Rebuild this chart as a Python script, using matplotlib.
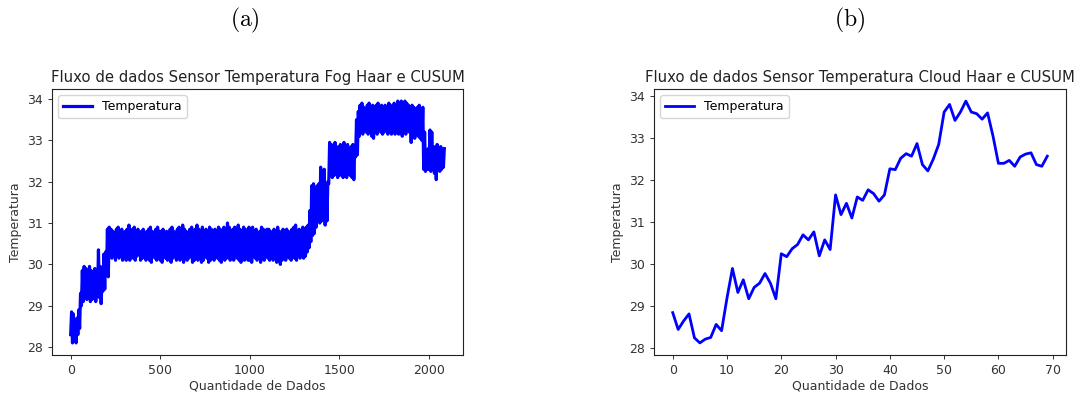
import matplotlib
matplotlib.use("Agg")
import matplotlib.pyplot as plt
import numpy as np

# Fog stream: lower / upper edge of the noisy band, read every 10 samples
fog_low = [
    28.3, 28.1, 28.15, 28.1, 28.3, 28.45, 29.0, 29.1, 29.2, 29.15,
    29.2, 29.1, 29.15, 29.2, 29.1, 29.3, 29.2, 29.05, 29.35, 29.4,
    29.75, 29.7, 30.2, 30.15, 30.2, 30.1, 30.25, 30.15, 30.2, 30.1,
    30.2, 30.1, 30.25, 30.1, 30.2, 30.15, 30.1, 30.2, 30.25, 30.1,
    30.15, 30.2, 30.1, 30.25, 30.1, 30.05, 30.2, 30.15, 30.1, 30.2,
    30.1, 30.05, 30.2, 30.15, 30.1, 30.2, 30.05, 30.15, 30.25, 30.1,
    30.2, 30.1, 30.15, 30.05, 30.2, 30.1, 30.15, 30.2, 30.05, 30.1,
    30.15, 30.1, 30.2, 30.05, 30.1, 30.2, 30.15, 30.05, 30.1, 30.2,
    30.1, 30.2, 30.15, 30.1, 30.05, 30.2, 30.1, 30.15, 30.2, 30.1,
    30.15, 30.1, 30.2, 30.15, 30.1, 30.05, 30.2, 30.1, 30.15, 30.1,
    30.1, 30.05, 30.2, 30.15, 30.1, 30.2, 30.05, 30.15, 30.1, 30.2,
    30.15, 30.1, 30.2, 30.1, 30.15, 30.05, 30.2, 30.0, 30.1, 30.2,
    30.1, 30.2, 30.15, 30.1, 30.2, 30.15, 30.1, 30.2, 30.15, 30.2,
    30.15, 30.2, 30.3, 30.4, 30.55, 30.7, 30.75, 30.9, 31.05, 31.0,
    31.05, 31.1, 30.95, 31.05, 31.95, 32.2, 32.1, 32.15, 32.2, 32.1,
    32.15, 32.2, 32.1, 32.15, 32.1, 32.2, 32.15, 32.1, 32.05, 32.6,
    32.65, 33.1, 33.2, 33.15, 33.25, 33.2, 33.15, 33.2, 33.1, 33.05,
    33.2, 33.15, 33.25, 33.2, 33.15, 33.2, 33.25, 33.15, 33.2, 33.15,
    33.2, 33.15, 33.25, 33.15, 33.2, 33.1, 33.2, 33.15, 33.25, 33.2,
    32.95, 33.1, 33.05, 33.15, 33.1, 33.05, 33.0, 32.3, 32.25, 32.3,
    32.3, 32.25, 32.3, 32.2, 32.05, 32.3, 32.25, 32.3, 32.35,
]
fog_high = [
    28.85, 28.8, 28.6, 28.7, 28.9, 29.3, 29.85, 29.95, 29.9, 29.8,
    29.95, 29.85, 29.8, 29.9, 29.75, 30.35, 29.95, 29.7, 30.25, 30.3,
    30.85, 30.9, 30.85, 30.8, 30.75, 30.85, 30.9, 30.8, 30.85, 30.75,
    30.8, 30.85, 30.95, 30.8, 30.85, 30.9, 30.8, 30.85, 30.75, 30.8,
    30.85, 30.75, 30.8, 30.85, 30.9, 30.8, 30.75, 30.85, 30.9, 30.8,
    30.8, 30.85, 30.75, 30.8, 30.7, 30.85, 30.9, 30.8, 30.75, 30.85,
    30.9, 30.8, 30.95, 30.85, 30.8, 30.75, 30.85, 30.9, 30.8, 30.85,
    30.95, 30.85, 30.8, 30.9, 30.75, 30.85, 30.8, 30.9, 30.85, 30.8,
    30.85, 30.8, 30.9, 30.85, 30.8, 30.9, 30.85, 31.0, 30.9, 30.8,
    30.85, 30.9, 30.8, 30.95, 30.85, 30.8, 30.9, 30.85, 30.8, 30.9,
    30.85, 30.9, 30.8, 30.85, 30.75, 30.8, 30.9, 30.85, 30.8, 30.85,
    30.85, 30.8, 30.75, 30.85, 30.8, 30.9, 30.8, 30.75, 30.85, 30.8,
    30.85, 30.8, 30.75, 30.85, 30.9, 30.95, 30.8, 30.85, 30.8, 30.9,
    30.85, 30.9, 30.95, 31.3, 31.9, 31.95, 31.85, 31.9, 31.95, 32.35,
    31.9, 32.3, 31.9, 32.0, 32.95, 32.9, 32.85, 32.95, 32.8, 32.85,
    32.9, 32.8, 32.95, 32.85, 32.9, 32.8, 32.85, 32.9, 32.8, 33.5,
    33.7, 33.85, 33.9, 33.8, 33.75, 33.85, 33.9, 33.8, 33.85, 33.8,
    33.85, 33.9, 33.8, 33.85, 33.75, 33.85, 33.8, 33.9, 33.85, 33.8,
    33.9, 33.85, 33.95, 33.9, 33.95, 33.85, 33.95, 33.9, 33.85, 33.8,
    33.85, 33.8, 33.75, 33.8, 33.85, 33.7, 33.8, 33.2, 32.75, 32.8,
    33.25, 33.2, 32.85, 32.75, 32.9, 32.8, 32.85, 32.75, 32.8,
]

# Cloud stream: one value per aggregated sample
cloud_temp = [
    28.85, 28.45, 28.65, 28.82, 28.25, 28.13, 28.22, 28.26, 28.57, 28.42,
    29.2, 29.9, 29.33, 29.63, 29.18, 29.45, 29.55, 29.78, 29.55, 29.18,
    30.25, 30.18, 30.37, 30.47, 30.7, 30.58, 30.77, 30.2, 30.58, 30.35,
    31.65, 31.18, 31.45, 31.1, 31.6, 31.52, 31.77, 31.68, 31.5, 31.65,
    32.27, 32.25, 32.52, 32.63, 32.57, 32.87, 32.37, 32.22, 32.5, 32.85,
    33.62, 33.8, 33.42, 33.62, 33.88, 33.62, 33.58, 33.45, 33.6, 33.05,
    32.4, 32.4, 32.47, 32.33, 32.55, 32.62, 32.65, 32.37, 32.33, 32.57,
]

SAMPLE_STEP = 10
FS = 9

plt.rcParams["font.family"] = "DejaVu Sans"
plt.rcParams["mathtext.fontset"] = "cm"

fig = plt.figure(figsize=(10.74, 3.94), dpi=100)
ax_fog = fig.add_axes([52 / 1074, 39 / 394, 411 / 1074, 266 / 394])
ax_cloud = fig.add_axes([654 / 1074, 39 / 394, 412 / 1074, 266 / 394])

# interleave low/high edges so the line zig-zags through the band
fog_y = np.column_stack([fog_low, fog_high]).ravel()
fog_x = np.arange(len(fog_y)) * (SAMPLE_STEP / 2)

ax_fog.plot(fog_x, fog_y, color="blue", linewidth=2.3, label="Temperatura")
ax_cloud.plot(np.arange(len(cloud_temp)), cloud_temp, color="blue",
              linewidth=2, label="Temperatura")

titles = [
    "Fluxo de dados Sensor Temperatura Fog Haar e CUSUM",
    "Fluxo de dados Sensor Temperatura Cloud Haar e CUSUM",
]
for ax, title in zip([ax_fog, ax_cloud], titles):
    ax.set_title(title, fontsize=10.7, color="#222222", pad=5)
    ax.set_xlabel("Quantidade de Dados", fontsize=FS, color="#333333", labelpad=2)
    ax.set_ylabel("Temperatura", fontsize=FS, color="#333333", labelpad=4)
    ax.tick_params(labelsize=FS, length=3, width=0.7, colors="#333333")
    for spine in ax.spines.values():
        spine.set_linewidth(0.8)
        spine.set_color("#222222")
    ax.legend(loc="upper left", fontsize=FS, handlelength=2.3,
              framealpha=0.8, edgecolor="#cccccc", borderpad=0.4)

ax_fog.set_xticks([0, 500, 1000, 1500, 2000])
ax_cloud.set_xticks([0, 10, 20, 30, 40, 50, 60, 70])

fig.text(245 / 1074, 1 - 20 / 394, r"$\mathrm{(a)}$", fontsize=17,
         ha="center", va="center")
fig.text(850 / 1074, 1 - 20 / 394, r"$\mathrm{(b)}$", fontsize=17,
         ha="center", va="center")

fig.savefig("out.png", dpi=100)
